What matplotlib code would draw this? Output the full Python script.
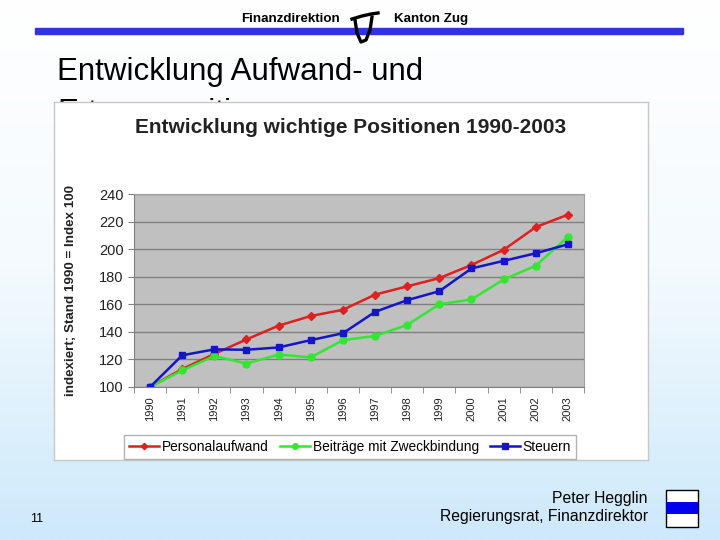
import numpy as np
import matplotlib
matplotlib.use('Agg')
import matplotlib.pyplot as plt
from matplotlib.colors import LinearSegmentedColormap
from matplotlib.patches import Rectangle

plt.rcParams['font.family'] = ['Liberation Sans', 'DejaVu Sans']

# data (index, 1990 = 100)
years = ['1990', '1991', '1992', '1993', '1994', '1995', '1996',
         '1997', '1998', '1999', '2000', '2001', '2002', '2003']
personal = [100, 113, 124, 134.5, 144.5, 151.5, 156, 167, 173, 179, 188.5, 199.5, 216, 225]
beitraege = [100, 112, 122.5, 117, 123.5, 121.5, 134, 137, 145, 160, 163.5, 178, 188, 209]
steuern = [100, 123, 127.3, 127, 128.7, 134, 139, 154.5, 163, 169.5, 186, 191.5, 197, 203.5]
series_names = ['Personalaufwand', 'Beiträge mit Zweckbindung', 'Steuern']

W, H = 720, 540
fig = plt.figure(figsize=(7.2, 5.4), dpi=100)

# slide background, pixel coordinates
bg = fig.add_axes([0, 0, 1, 1], zorder=0)
bg.set_xlim(0, W)
bg.set_ylim(H, 0)
bg.axis('off')
grad = np.linspace(0, 1, 256).reshape(-1, 1)
cmap = LinearSegmentedColormap.from_list('slide', ['#ffffff', '#f4fafe', '#cde9fb'])
bg.imshow(grad, cmap=cmap, extent=[0, W, H, 0], aspect='auto', zorder=0)

# header
bg.add_patch(Rectangle((35, 28), 648, 5.5, color='#3333dd', zorder=2))
bg.text(290, 19, 'Finanzdirektion', ha='center', va='center', fontsize=9.6, fontweight='bold', zorder=3)
bg.text(431, 19, 'Kanton Zug', ha='center', va='center', fontsize=9.6, fontweight='bold', zorder=3)
bg.plot([352, 362, 371, 378], [19, 16, 14, 13], color='black', lw=2.4, zorder=3)
bg.plot([355, 357, 361, 366, 370, 372], [20, 33, 42, 40, 30, 17], color='black', lw=2.4, zorder=3)

# slide title (second line mostly hidden behind the chart picture)
bg.text(57, 72, 'Entwicklung Aufwand- und', ha='left', va='center', fontsize=22.5, zorder=3)
bg.text(57, 113, 'Ertragspositionen', ha='left', va='center', fontsize=22.5, zorder=3)

# footer
bg.text(30, 519, '11', ha='left', va='center', fontsize=9, zorder=3)
bg.text(648, 498, 'Peter Hegglin', ha='right', va='center', fontsize=11.3, zorder=3)
bg.text(648, 517, 'Regierungsrat, Finanzdirektor', ha='right', va='center', fontsize=11.3, zorder=3)
bg.add_patch(Rectangle((666, 490), 32, 37, facecolor='white', edgecolor='black', lw=1, zorder=3))
bg.add_patch(Rectangle((666, 502), 32, 12, facecolor='#0000ee', edgecolor='none', zorder=4))

# chart picture frame
frame = fig.add_axes([54 / W, 1 - 460 / H, 594 / W, 358 / H], zorder=1)
frame.set_facecolor('white')
frame.set_xticks([])
frame.set_yticks([])
for s in frame.spines.values():
    s.set_color('#c8c8c8')
    s.set_linewidth(1)
frame.text(0.5, 0.93, 'Entwicklung wichtige Positionen 1990-2003', transform=frame.transAxes,
           ha='center', va='center', fontsize=15, fontweight='bold', color='#222222')

# plot area
ax = fig.add_axes([134 / W, 1 - 387 / H, 450 / W, 193 / H], zorder=2)
ax.set_facecolor('#c0c0c0')
x = np.arange(len(years))
ax.plot(x, personal, color='#dd2020', lw=1.8, marker='D', ms=4, label=series_names[0])
ax.plot(x, beitraege, color='#33e633', lw=1.8, marker='o', ms=5, label=series_names[1])
ax.plot(x, steuern, color='#1515c8', lw=1.8, marker='s', ms=5, label=series_names[2])
ax.set_xlim(-0.5, len(years) - 0.5)
ax.set_ylim(100, 240)
ax.set_yticks(range(100, 241, 20))
ax.yaxis.grid(True, color='#808080', lw=1)
ax.set_axisbelow(True)
ax.set_xticks(x)
ax.set_xticklabels(years, rotation=90, fontsize=8, color='#222222')
ax.set_xticks(np.arange(-0.5, len(years), 1), minor=True)
ax.tick_params(axis='x', which='major', length=0, pad=7)
ax.tick_params(axis='x', which='minor', length=4, color='#808080')
ax.tick_params(axis='y', labelsize=10.5, length=4, color='#808080', labelcolor='#222222')
for s in ['top', 'right']:
    ax.spines[s].set_color('#a0a0a0')
ax.spines['left'].set_color('#808080')
ax.spines['bottom'].set_color('#808080')
ax.set_ylabel('indexiert; Stand 1990 = Index 100', fontsize=9.6, fontweight='bold', color='#222222', labelpad=16)

leg = ax.legend(loc='upper center', bbox_to_anchor=(0.48, -0.215), ncol=3, fontsize=9.9,
                frameon=True, fancybox=False, handlelength=2.2, handletextpad=0.2,
                columnspacing=0.8, borderpad=0.35, markerscale=0.8)
leg.get_frame().set_edgecolor('#a0a0a0')
leg.get_frame().set_linewidth(1)

fig.savefig('out.png', dpi=100)
